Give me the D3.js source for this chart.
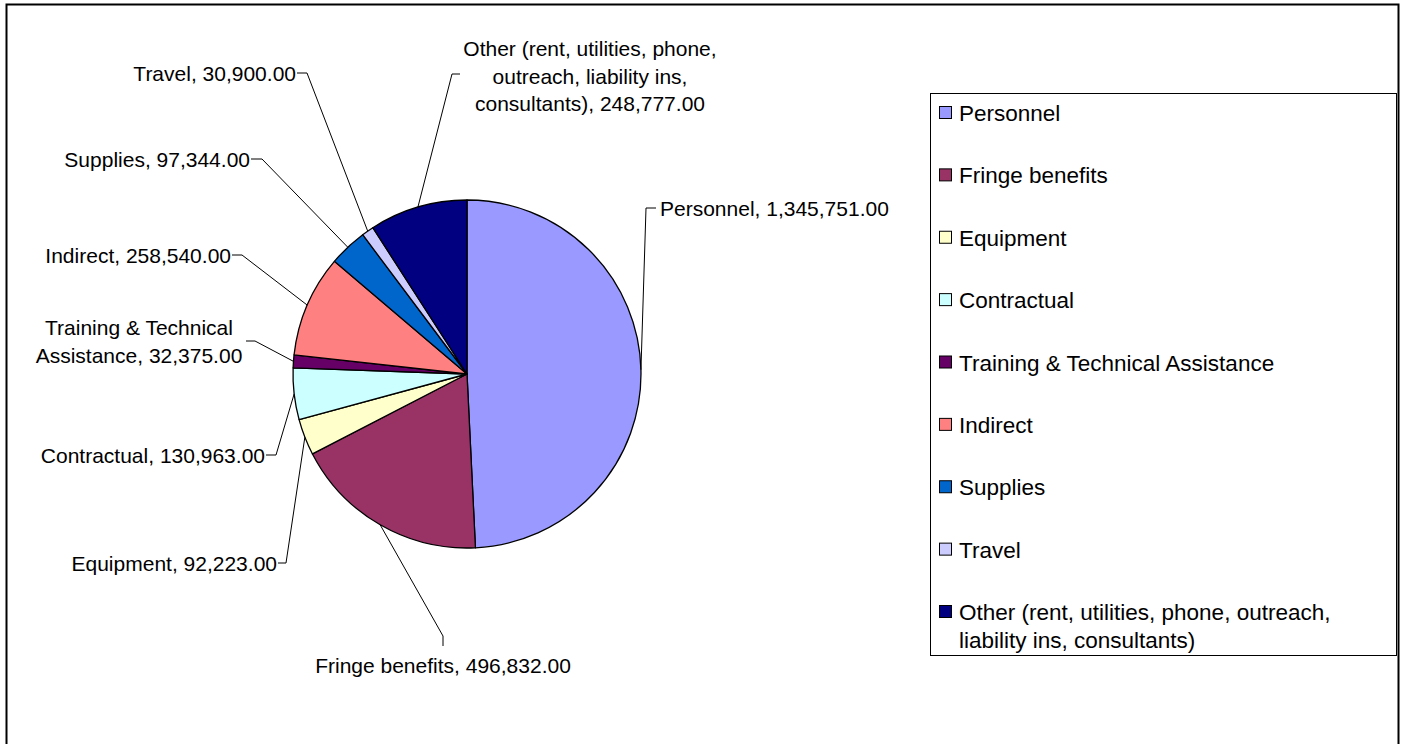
<!DOCTYPE html>
<html>
<head>
<meta charset="utf-8">
<script src="https://cdn.jsdelivr.net/npm/d3@7"></script>
<style>
  html, body { margin: 0; padding: 0; background: #fff; }
  svg { display: block; font-family: "Liberation Sans", Arial, sans-serif; }
</style>
</head>
<body>
<svg id="chart" width="1403" height="744"></svg>
<script>
// budget categories, amounts and slice colours (Excel 2003 default palette)
const categories = ["Personnel", "Fringe benefits", "Equipment", "Contractual",
  "Training & Technical Assistance", "Indirect", "Supplies", "Travel",
  "Other (rent, utilities, phone, outreach, liability ins, consultants)"];
const amounts = [1345751, 496832, 92223, 130963, 32375, 258540, 97344, 30900, 248777];
const colors = ["#9999FF", "#993366", "#FFFFCC", "#CCFFFF", "#660066", "#FF8080", "#0066CC", "#CCCCFF", "#000080"];

// data label text lines (as wrapped in the original)
const labelLines = [
  ["Personnel, 1,345,751.00"],
  ["Fringe benefits, 496,832.00"],
  ["Equipment, 92,223.00"],
  ["Contractual, 130,963.00"],
  ["Training & Technical", "Assistance, 32,375.00"],
  ["Indirect, 258,540.00"],
  ["Supplies, 97,344.00"],
  ["Travel, 30,900.00"],
  ["Other (rent, utilities, phone,", "outreach, liability ins,", "consultants), 248,777.00"]
];
const legendLines = [
  ["Personnel"], ["Fringe benefits"], ["Equipment"], ["Contractual"],
  ["Training & Technical Assistance"], ["Indirect"], ["Supplies"], ["Travel"],
  ["Other (rent, utilities, phone, outreach,", "liability ins, consultants)"]
];

// label placement: text anchor point, alignment, elbow point of the leader
const labelLayout = [
  {x: 660, y: 208, anchor: "start",  elbow: [[656, 208], [646, 208]]},
  {x: 443, y: 665, anchor: "middle", elbow: [[443, 646], [443, 636]]},
  {x: 277, y: 563, anchor: "end",    elbow: [[278, 563], [286, 563]]},
  {x: 265, y: 455, anchor: "end",    elbow: [[266, 455], [276, 455]]},
  {x: 139, y: 327, anchor: "middle", elbow: [[246, 341], [255, 341]]},
  {x: 231, y: 255, anchor: "end",    elbow: [[232, 255], [242, 255]]},
  {x: 250, y: 159, anchor: "end",    elbow: [[251, 159], [262, 159]]},
  {x: 296, y: 73,  anchor: "end",    elbow: [[297, 73], [307, 73]]},
  {x: 590, y: 48,  anchor: "middle", elbow: [[460, 74], [452, 74]]}
];

const width = 1403, height = 744;
const cx = 467, cy = 374, radius = 174;
const lineH = 27.5;

const svg = d3.select("#chart");

// chart area border
svg.append("rect")
  .attr("x", 6.5).attr("y", 4.5)
  .attr("width", 1392).attr("height", 760)
  .attr("fill", "#fff")
  .attr("stroke", "#000")
  .attr("stroke-width", 2);

const data = categories.map((name, i) => ({name, value: amounts[i], color: colors[i], i}));

const pie = d3.pie().sort(null).value(d => d.value);
const arcs = pie(data);
const arc = d3.arc().innerRadius(0).outerRadius(radius);

const g = svg.append("g").attr("transform", `translate(${cx},${cy})`);

g.selectAll("path.slice")
  .data(arcs)
  .join("path")
  .attr("class", "slice")
  .attr("d", arc)
  .attr("fill", d => d.data.color)
  .attr("stroke", "#000")
  .attr("stroke-width", 1.3)
  .attr("stroke-linejoin", "round");

// leader lines from each slice's mid-arc point to its label
const edgePoint = d => {
  const a = (d.startAngle + d.endAngle) / 2;
  return [cx + radius * Math.sin(a), cy - radius * Math.cos(a)];
};

svg.selectAll("path.leader")
  .data(arcs)
  .join("path")
  .attr("class", "leader")
  .attr("fill", "none")
  .attr("stroke", "#000")
  .attr("stroke-width", 1)
  .attr("d", d => d3.line()([...labelLayout[d.index].elbow, edgePoint(d)]));

const labels = svg.selectAll("text.label")
  .data(arcs)
  .join("text")
  .attr("class", "label")
  .attr("font-size", 21)
  .attr("fill", "#000")
  .attr("text-anchor", d => labelLayout[d.index].anchor)
  .attr("dominant-baseline", "central");

labels.selectAll("tspan")
  .data(d => labelLines[d.index].map(t => ({t, L: labelLayout[d.index]})))
  .join("tspan")
  .attr("x", d => d.L.x)
  .attr("y", (d, j) => d.L.y + j * lineH)
  .text(d => d.t);

// legend
const legend = svg.append("g");
legend.append("rect")
  .attr("x", 930.5).attr("y", 93.5)
  .attr("width", 466).attr("height", 562)
  .attr("fill", "#fff")
  .attr("stroke", "#000")
  .attr("stroke-width", 1);

const legendY = d3.scaleLinear().domain([0, categories.length - 1]).range([113, 612]);

const items = legend.selectAll("g.item")
  .data(data)
  .join("g")
  .attr("class", "item")
  .attr("transform", d => `translate(0,${legendY(d.i)})`);

items.append("rect")
  .attr("x", 939.5).attr("y", -6.5)
  .attr("width", 12).attr("height", 12)
  .attr("fill", d => d.color)
  .attr("stroke", "#000")
  .attr("stroke-width", 1);

items.append("text")
  .attr("font-size", 22.5)
  .attr("fill", "#000")
  .attr("dominant-baseline", "central")
  .selectAll("tspan")
  .data(d => legendLines[d.i])
  .join("tspan")
  .attr("x", 959)
  .attr("y", (t, j) => j * 28)
  .text(t => t);
</script>
</body>
</html>
